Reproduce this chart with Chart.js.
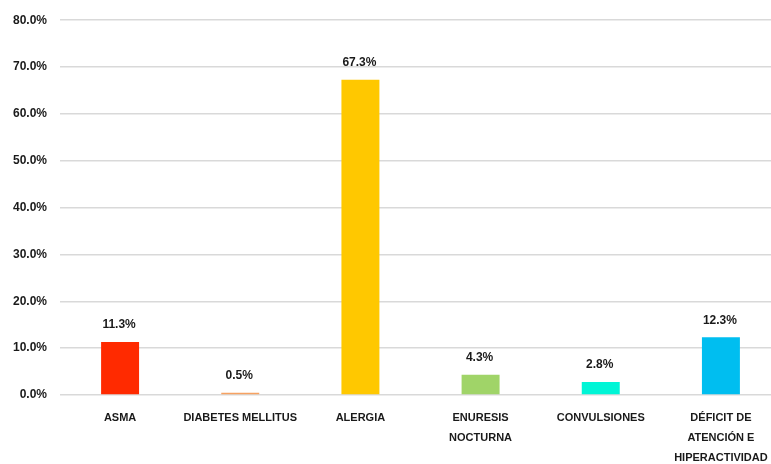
<!DOCTYPE html>
<html>
<head>
<meta charset="utf-8">
<script src="https://cdn.jsdelivr.net/npm/chart.js@4.4.1/dist/chart.umd.min.js"></script>
<style>
  html, body { margin: 0; padding: 0; background: #fff; overflow: hidden; }
  #wrap { width: 781px; height: 464px; }
</style>
</head>
<body>
<div id="wrap"><canvas id="chart" width="781" height="464"></canvas></div>
<script>
// Categories and values
const categories = [
    'ASMA',
    'DIABETES MELLITUS',
    'ALERGIA',
    ['ENURESIS', 'NOCTURNA'],
    'CONVULSIONES',
    ['DÉFICIT DE', 'ATENCIÓN E', 'HIPERACTIVIDAD']
];
const values = [11.3, 0.5, 67.3, 4.3, 2.8, 12.3];
const barColors = ['#FF2A00', '#F7A262', '#FFC800', '#A0D468', '#00F5D6', '#00BEF0'];
const yTicks = [0, 10, 20, 30, 40, 50, 60, 70, 80];

const fontFamily = '"Liberation Sans", Arial, sans-serif';

// Draw value labels above bars
const valueLabels = {
    id: 'valueLabels',
    afterDatasetsDraw(chart) {
        const ctx = chart.ctx;
        const meta = chart.getDatasetMeta(0);
        ctx.save();
        ctx.font = 'bold 12px ' + fontFamily;
        ctx.fillStyle = '#1a1a1a';
        ctx.textAlign = 'center';
        ctx.textBaseline = 'bottom';
        meta.data.forEach((bar, i) => {
            ctx.fillText(values[i].toFixed(1) + '%', bar.x - 1, bar.y - 11);
        });
        ctx.restore();
    }
};

new Chart(document.getElementById('chart').getContext('2d'), {
    type: 'bar',
    data: {
        labels: categories,
        datasets: [{
            data: values,
            backgroundColor: barColors,
            borderWidth: 0,
            categoryPercentage: 1.0,
            barPercentage: 0.316
        }]
    },
    options: {
        responsive: false,
        animation: false,
        layout: { padding: { top: 13, right: 0, left: 0, bottom: 0 } },
        plugins: {
            legend: { display: false },
            tooltip: { enabled: false }
        },
        scales: {
            y: {
                min: 0,
                max: 80,
                afterFit(scale) { scale.width = 60; },
                afterBuildTicks(scale) { scale.ticks = yTicks.map(v => ({ value: v })); },
                border: { display: false },
                grid: { color: '#d9d9d9', lineWidth: 1.5, drawTicks: false },
                ticks: {
                    padding: 13,
                    color: '#1a1a1a',
                    font: { family: fontFamily, size: 12, weight: 'bold' },
                    callback: v => v.toFixed(1) + '%'
                }
            },
            x: {
                afterFit(scale) { scale.height = 69; },
                border: { display: false },
                grid: { display: false },
                ticks: {
                    padding: 5,
                    maxRotation: 0,
                    autoSkip: false,
                    color: '#1a1a1a',
                    font: { family: fontFamily, size: 11, weight: 'bold', lineHeight: 1.8 }
                }
            }
        }
    },
    plugins: [valueLabels]
});
</script>
</body>
</html>
